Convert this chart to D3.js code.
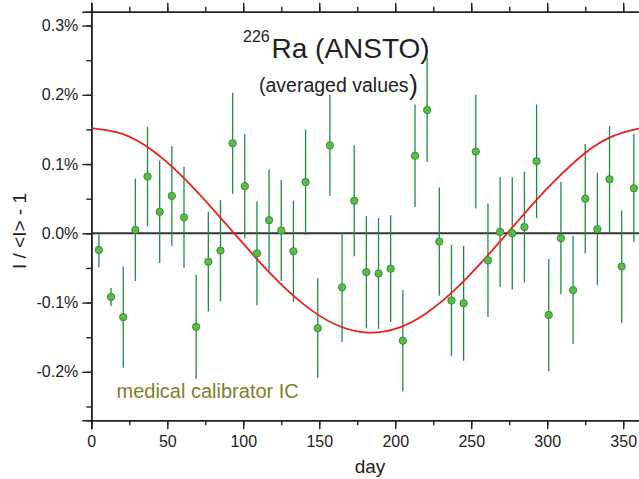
<!DOCTYPE html>
<html lang="en">
<head>
    <meta charset="UTF-8">
    <title>226Ra ANSTO</title>
    <script src="https://d3js.org/d3.v7.min.js"></script>
    <style>
        body { margin: 0; background: #fff; }
        text { font-family: "Liberation Sans", Arial, sans-serif; }
    </style>
</head>
<body>
    <svg width="639" height="479"></svg>
    <script>
        // measurement days
        const days = [5, 13, 21, 29, 37, 45, 53, 61, 69, 77, 85, 93, 101, 109, 117,
            125, 133, 141, 149, 157, 165, 173, 181, 189, 197, 205, 213, 221, 229, 237,
            245, 253, 261, 269, 277, 285, 293, 301, 309, 317, 325, 333, 341, 349, 357];
        // I/<I> - 1, in percent
        const values = [-0.024, -0.092, -0.121, 0.005, 0.082, 0.031, 0.054, 0.023, -0.135, -0.041,
            -0.025, 0.130, 0.068, -0.029, 0.019, 0.004, -0.026, 0.074, -0.137, 0.127,
            -0.078, 0.047, -0.056, -0.058, -0.051, -0.155, 0.112, 0.178, -0.012, -0.097,
            -0.101, 0.118, -0.039, 0.002, 0.000, 0.009, 0.104, -0.118, -0.007, -0.082,
            0.050, 0.006, 0.078, -0.048, 0.065];
        const errors = [0.025, 0.013, 0.073, 0.074, 0.072, 0.074, 0.072, 0.073, 0.075, 0.072,
            0.073, 0.073, 0.075, 0.075, 0.073, 0.073, 0.073, 0.076, 0.072, 0.073,
            0.079, 0.080, 0.081, 0.080, 0.077, 0.073, 0.074, 0.075, 0.078, 0.080,
            0.083, 0.082, 0.082, 0.079, 0.081, 0.080, 0.082, 0.081, 0.081, 0.078,
            0.079, 0.081, 0.077, 0.081, 0.078];
        // fitted annual curve
        const fitDays = [0, 20, 40, 60, 80, 100, 120, 140, 160, 180, 200, 220, 240, 260, 280, 300, 320, 340, 360, 365];
        const fitValues = [0.152, 0.144, 0.120, 0.082, 0.035, -0.015, -0.063, -0.103, -0.131, -0.143,
            -0.138, -0.116, -0.080, -0.034, 0.016, 0.065, 0.107, 0.137, 0.151, 0.152];

        const xTicks = [0, 50, 100, 150, 200, 250, 300, 350];
        const yTicks = [-0.2, -0.1, 0.0, 0.1, 0.2, 0.3];

        const svg = d3.select('svg');
        const mLeft = 91.3, mRight = 646, mTop = 11.7, mBottom = 420.3;

        const x = d3.scaleLinear().domain([0, 365]).range([mLeft, mRight]);
        const y = d3.scaleLinear().domain([-0.27, 0.32]).range([mBottom, mTop]);

        const minorX = d3.range(0, 366, 25);
        const minorY = d3.range(-0.25, 0.33, 0.05);

        // axes
        const axisStyle = g => {
            g.selectAll('path').attr('stroke', '#222').attr('stroke-width', 1.6);
            g.selectAll('line').attr('stroke', '#222').attr('stroke-width', 1.4);
            g.selectAll('text').attr('fill', '#222').attr('font-size', 16)
                .attr('font-family', '"Liberation Sans", Arial, sans-serif');
        };

        // minor ticks first
        svg.append('g').attr('transform', `translate(0,${mBottom})`)
            .call(d3.axisBottom(x).tickValues(minorX).tickSize(5).tickFormat(''))
            .call(axisStyle);
        svg.append('g').attr('transform', `translate(0,${mTop})`)
            .call(d3.axisBottom(x).tickValues(minorX).tickSize(-5).tickFormat(''))
            .call(axisStyle);
        svg.append('g').attr('transform', `translate(${mLeft},0)`)
            .call(d3.axisLeft(y).tickValues(minorY).tickSize(5).tickFormat(''))
            .call(axisStyle);
        svg.append('g').attr('transform', `translate(${mRight},0)`)
            .call(d3.axisLeft(y).tickValues(minorY).tickSize(-5).tickFormat(''))
            .call(axisStyle);

        // major ticks
        svg.append('g').attr('transform', `translate(0,${mBottom})`)
            .call(d3.axisBottom(x).tickValues(xTicks).tickSize(9).tickPadding(6).tickFormat(d3.format('d')))
            .call(axisStyle);
        svg.append('g').attr('transform', `translate(0,${mTop})`)
            .call(d3.axisBottom(x).tickValues(xTicks).tickSize(-9).tickFormat(''))
            .call(axisStyle);
        svg.append('g').attr('transform', `translate(${mLeft},0)`)
            .call(d3.axisLeft(y).tickValues(yTicks).tickSize(9).tickPadding(4)
                .tickFormat(d => d3.format('.1f')(d) + '%'))
            .call(axisStyle);
        svg.append('g').attr('transform', `translate(${mRight},0)`)
            .call(d3.axisLeft(y).tickValues(yTicks).tickSize(-9).tickFormat(''))
            .call(axisStyle);

        svg.selectAll('.tick text').text(function () {
            return this.textContent.replace('−', '-');
        });

        // clip for the plot box
        svg.append('clipPath').attr('id', 'box')
            .append('rect').attr('x', mLeft).attr('y', mTop)
            .attr('width', mRight - mLeft).attr('height', mBottom - mTop);

        const plot = svg.append('g').attr('clip-path', 'url(#box)');

        // zero line
        plot.append('line')
            .attr('x1', mLeft).attr('x2', mRight)
            .attr('y1', y(0)).attr('y2', y(0))
            .attr('stroke', '#333').attr('stroke-width', 2);

        // error bars
        plot.selectAll('.err').data(days).join('line')
            .attr('class', 'err')
            .attr('x1', d => x(d)).attr('x2', d => x(d))
            .attr('y1', (d, i) => y(values[i] - errors[i]))
            .attr('y2', (d, i) => y(values[i] + errors[i]))
            .attr('stroke', '#21894a').attr('stroke-width', 1.3);

        // fit curve
        const line = d3.line()
            .x((d, i) => x(fitDays[i]))
            .y(d => y(d))
            .curve(d3.curveNatural);
        plot.append('path').datum(fitValues)
            .attr('d', line)
            .attr('fill', 'none')
            .attr('stroke', '#e8231f').attr('stroke-width', 1.8);

        // points
        plot.selectAll('.pt').data(days).join('circle')
            .attr('class', 'pt')
            .attr('cx', d => x(d))
            .attr('cy', (d, i) => y(values[i]))
            .attr('r', 3.7)
            .attr('fill', '#5cbb46')
            .attr('stroke', '#2b8a3a').attr('stroke-width', 0.9);

        // titles
        svg.append('text').attr('x', 243).attr('y', 42)
            .attr('font-size', 16).attr('fill', '#222').text('226');
        svg.append('text').attr('x', 271.5).attr('y', 57.5)
            .attr('font-size', 28).attr('fill', '#222').text('Ra (ANSTO)');
        svg.append('text').attr('x', 259).attr('y', 91.5)
            .attr('font-size', 19.5).attr('fill', '#222').text('(averaged values');
        svg.append('text').attr('x', 409).attr('y', 94)
            .attr('font-size', 27).attr('fill', '#222').text(')');

        svg.append('text').attr('x', 116.5).attr('y', 398)
            .attr('font-size', 20).attr('fill', '#80802c').text('medical calibrator IC');

        // axis labels
        svg.append('text').attr('x', 370).attr('y', 473)
            .attr('text-anchor', 'middle').attr('font-size', 19).attr('fill', '#222')
            .text('day');
        svg.append('text')
            .attr('transform', 'translate(26,231) rotate(-90)')
            .attr('text-anchor', 'middle').attr('font-size', 19).attr('fill', '#222')
            .text('I / <I> - 1');
    </script>
</body>
</html>
